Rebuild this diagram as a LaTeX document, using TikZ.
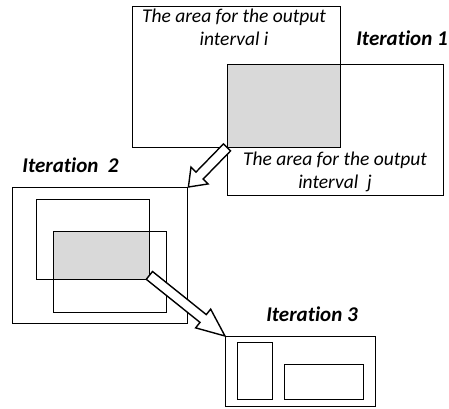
\documentclass[tikz,border=0pt]{standalone}
\usepackage{fontspec}
\setmainfont[Ligatures=NoCommon]{Carlito}
\usetikzlibrary{calc}
\definecolor{shadegray}{HTML}{D9D9D9}
\tikzset{
  box/.style={draw, line width=1.4pt, minimum width=#1, inner sep=0pt, anchor=north west},
  shadebox/.style={fill=shadegray, inner sep=0pt, anchor=north west},
  lbl/.style={font=\fontsize{19.5}{23}\selectfont\itshape, align=center, inner sep=0pt, anchor=base},
  itlbl/.style={font=\fontsize{21}{24}\selectfont\bfseries\itshape, inner sep=0pt, anchor=base},
  arr/.style={draw, fill=white, line width=1.4pt, line join=miter}
}
\newcommand\harrow[3]{%
  \coordinate (nk) at ($(#2)!#3!(#1)$);
  \draw[arr] ($(#1)!5pt!90:(#2)$) -- ($(nk)!5pt!90:(#2)$) -- ($(nk)!12pt!90:(#2)$) -- (#2)
    -- ($(nk)!12pt!-90:(#2)$) -- ($(nk)!5pt!-90:(#2)$) -- ($(#1)!5pt!-90:(#2)$) -- cycle;}
\begin{document}
\begin{tikzpicture}[x=1pt,y=-1pt]
\useasboundingbox (0,0) rectangle (449,408);
% Iteration 1
\node[shadebox, minimum width=113pt, minimum height=83pt] (s1) at (227,64) {};
\node[box=208pt, minimum height=141pt] (ri) at (132,6) {};
\node[box=216pt, minimum height=131pt] (rj) at (227,64) {};
\node[lbl] (ti) at (234,45.7) {The area for the output\\interval i};
\node[lbl] (tj) at (335,188.5) {The area for the output\\interval\ \ j};
\node[itlbl] (it1) at (402,45.7) {Iteration 1};
% Iteration 2
\node[box=175pt, minimum height=136pt] (o2) at (12,187) {};
\node[shadebox, minimum width=96pt, minimum height=48pt] (s2) at (53,231) {};
\node[box=113pt, minimum height=80pt] (a2) at (36,199) {};
\node[box=113pt, minimum height=81pt] (b2) at (53,231) {};
\node[itlbl] (it2) at (70.5,172.3) {Iteration\ \ 2};
% Iteration 3
\node[box=150pt, minimum height=70pt] (o3) at (225,336) {};
\node[box=35pt, minimum height=57pt] (r1) at (237,342) {};
\node[box=79pt, minimum height=35pt] (r2) at (284,364) {};
\node[itlbl] (it3) at (312,321) {Iteration 3};
% arrows
\harrow{s1.south west}{o2.north east}{16pt}
\coordinate (t2) at ($(s2.south east)+(0,-4)$);
\harrow{t2}{o3.north west}{28pt}
\end{tikzpicture}
\end{document}
